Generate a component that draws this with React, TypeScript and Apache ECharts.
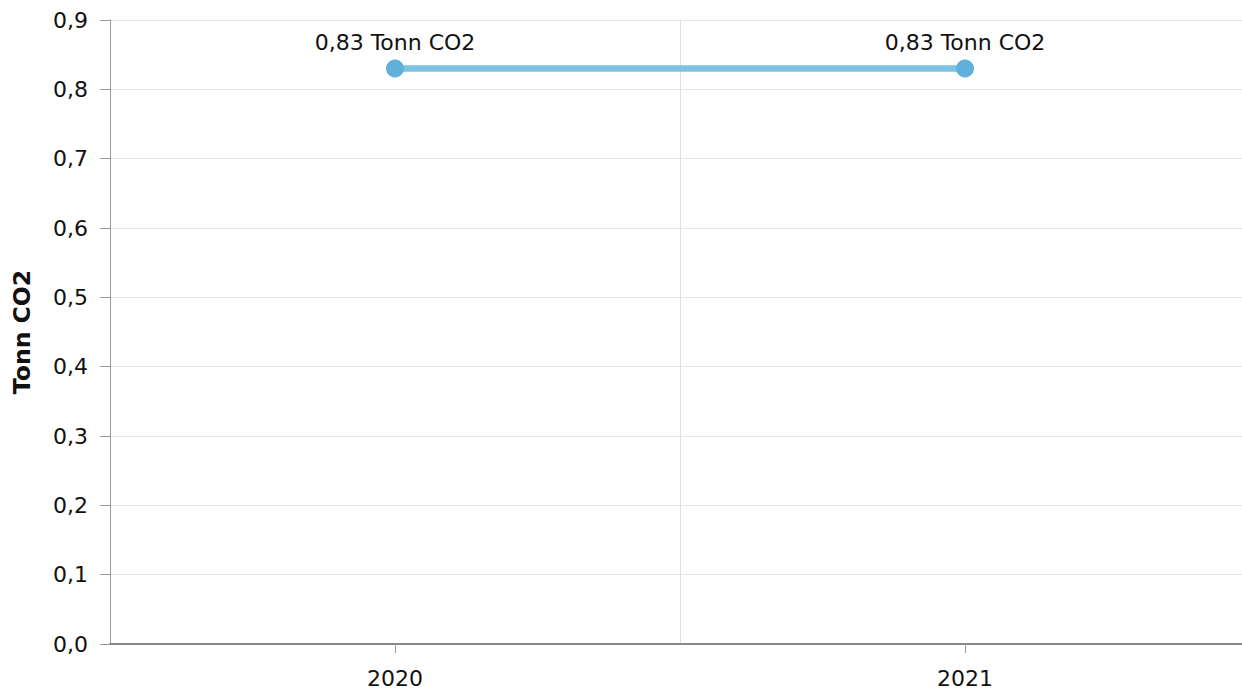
import React, { useEffect, useRef } from "react";
import * as echarts from "echarts";

const categories = ["2020", "2021"];
const values = [0.83, 0.83];
const unit = "Tonn CO2";
const yMin = 0;
const yMax = 0.9;
const yInterval = 0.1;

const fmt = (v: number, d: number) => v.toFixed(d).replace(".", ",");

export default function App() {
  const ref = useRef<HTMLDivElement>(null);
  useEffect(() => {
    if (!ref.current) return;
    const chart = echarts.init(ref.current, undefined, { renderer: "svg" });
    const font = "'DejaVu Sans', Verdana, sans-serif";
    chart.setOption({
      animation: false,
      backgroundColor: "#ffffff",
      textStyle: { fontFamily: font },
      grid: { left: 110, right: 0, top: 20, bottom: 47 },
      xAxis: {
        type: "category",
        data: categories,
        boundaryGap: true,
        axisLine: { show: true, lineStyle: { color: "#888888", width: 2 } },
        axisTick: { show: true, alignWithLabel: true, length: 9, lineStyle: { color: "#999999", width: 1 } },
        axisLabel: { color: "#111111", fontSize: 22, fontFamily: font, margin: 23 },
        splitLine: { show: true, lineStyle: { color: "#e0e0e0", width: 1 } },
      },
      yAxis: {
        type: "value",
        min: yMin,
        max: yMax,
        interval: yInterval,
        name: unit,
        nameLocation: "middle",
        nameGap: 76,
        nameTextStyle: { color: "#111111", fontSize: 23.5, fontWeight: "bold", fontFamily: font },
        axisLine: { show: true, lineStyle: { color: "#999999", width: 1 } },
        axisTick: { show: true, length: 10, lineStyle: { color: "#999999", width: 1 } },
        axisLabel: {
          color: "#111111",
          fontSize: 22,
          fontFamily: font,
          margin: 22,
          formatter: (v: number) => fmt(v, 1),
        },
        splitLine: { show: true, lineStyle: { color: "#e6e6e6", width: 1 } },
      },
      series: [
        {
          type: "line",
          data: values,
          symbol: "circle",
          symbolSize: 18,
          lineStyle: { color: "#7fc1e3", width: 6.5 },
          itemStyle: { color: "#5fb1db" },
          label: {
            show: true,
            position: "top",
            distance: 6,
            color: "#111111",
            fontSize: 22,
            fontFamily: font,
            formatter: (p: any) => `${fmt(p.value, 2)} ${unit}`,
          },
        },
      ],
    });
    return () => chart.dispose();
  }, []);
  return (
    <div
      style={{ position: "absolute", left: 0, top: 0, width: 1242, height: 691, overflow: "hidden" }}
    >
      <div ref={ref} style={{ width: 1250, height: 691 }} />
    </div>
  );
}
